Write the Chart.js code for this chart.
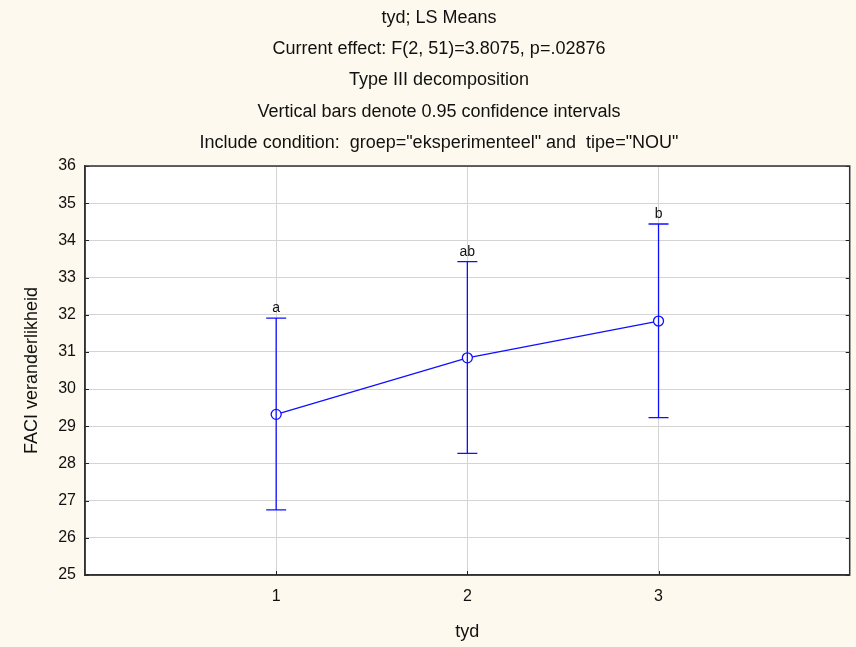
<!DOCTYPE html>
<html>
<head>
<meta charset="utf-8">
<script src="https://cdn.jsdelivr.net/npm/chart.js@4.4.1/dist/chart.umd.min.js"></script>
<style>
  html, body { margin: 0; padding: 0; background: #FEF9EE; }
  #wrap { width: 856px; height: 647px; }
</style>
</head>
<body>
<div id="wrap"><canvas id="c" width="856" height="647"></canvas></div>
<script>
const titleLines = [
  'tyd; LS Means',
  'Current effect: F(2, 51)=3.8075, p=.02876',
  'Type III decomposition',
  'Vertical bars denote 0.95 confidence intervals',
  'Include condition:  groep="eksperimenteel" and  tipe="NOU"'
];
const categories = [1, 2, 3];
const means = [29.32, 30.84, 31.83];
const lowerCI = [26.75, 28.27, 29.23];
const upperCI = [31.91, 33.43, 34.44];
const groupLetters = ['a', 'ab', 'b'];
const xTicks = [1, 2, 3];
const xTitle = 'tyd';
const yTitle = 'FACI veranderlikheid';

const BLUE = '#1010FF';
const FONT = '"Liberation Sans", Arial, sans-serif';

const extrasPlugin = {
  id: 'extras',
  beforeDraw(chart) {
    const ctx = chart.ctx;
    ctx.save();
    ctx.fillStyle = '#FEF9EE';
    ctx.fillRect(0, 0, chart.width, chart.height);
    const a = chart.chartArea;
    ctx.fillStyle = '#FFFFFF';
    ctx.fillRect(a.left, a.top, a.right - a.left, a.bottom - a.top);
    ctx.restore();
  },
  afterDatasetsDraw(chart) {
    const ctx = chart.ctx;
    const xs = chart.scales.x, ys = chart.scales.y;
    const a = chart.chartArea;
    ctx.save();
    ctx.strokeStyle = '#202020';
    ctx.lineWidth = 1;
    ctx.beginPath();
    xTicks.forEach(v => {
      const px = Math.round(xs.getPixelForValue(v)) + 0.5;
      ctx.moveTo(px, a.bottom); ctx.lineTo(px, a.bottom - 4);
    });
    for (let v = 25; v <= 36; v++) {
      const py = Math.round(ys.getPixelForValue(v)) + 0.5;
      ctx.moveTo(a.left, py); ctx.lineTo(a.left + 4, py);
      ctx.moveTo(a.right, py); ctx.lineTo(a.right - 4, py);
    }
    ctx.stroke();
    ctx.strokeStyle = BLUE;
    ctx.lineWidth = 1.3;
    categories.forEach((c, i) => {
      const px = xs.getPixelForValue(c);
      const yl = ys.getPixelForValue(lowerCI[i]);
      const yu = ys.getPixelForValue(upperCI[i]);
      ctx.beginPath();
      ctx.moveTo(px, yl); ctx.lineTo(px, yu);
      ctx.moveTo(px - 10, yu); ctx.lineTo(px + 10, yu);
      ctx.moveTo(px - 10, yl); ctx.lineTo(px + 10, yl);
      ctx.stroke();
      ctx.fillStyle = '#111';
      ctx.font = '14px ' + FONT;
      ctx.textAlign = 'center';
      ctx.textBaseline = 'alphabetic';
      ctx.fillText(groupLetters[i], px, yu - 6);
    });
    ctx.restore();
  },
  afterDraw(chart) {
    const ctx = chart.ctx;
    ctx.save();
    ctx.fillStyle = '#111';
    ctx.font = '18px ' + FONT;
    ctx.textAlign = 'center';
    ctx.textBaseline = 'middle';
    titleLines.forEach((t, i) => ctx.fillText(t, 439, 18 + i * 31.2));
    ctx.restore();
  }
};

new Chart(document.getElementById('c'), {
  type: 'line',
  data: {
    datasets: [{
      data: categories.map((c, i) => ({ x: c, y: means[i] })),
      borderColor: BLUE,
      borderWidth: 1.3,
      pointRadius: 5,
      pointBackgroundColor: '#FFFFFF',
      pointBorderColor: BLUE,
      pointBorderWidth: 1.3,
      tension: 0,
      fill: false
    }]
  },
  options: {
    responsive: false,
    animation: false,
    layout: { padding: { left: 0, top: 166, right: 6, bottom: 0 } },
    plugins: { legend: { display: false }, title: { display: false }, tooltip: { enabled: false } },
    scales: {
      x: {
        type: 'linear', min: 0, max: 4,
        afterBuildTicks(s) { s.ticks = xTicks.map(v => ({ value: v })); },
        afterFit(s) { s.height = 72; },
        grid: { color: '#D4D4D4', drawTicks: false, lineWidth: 1 },
        border: { color: '#303030', width: 1.5 },
        ticks: { color: '#111', font: { family: FONT, size: 16 }, padding: 12 },
        title: { display: true, text: xTitle, color: '#111', font: { family: FONT, size: 18 }, padding: { top: 0, bottom: 4 } }
      },
      y: {
        type: 'linear', min: 25, max: 36,
        afterFit(s) { s.width = 85; },
        grid: { color: '#D4D4D4', drawTicks: false, lineWidth: 1 },
        border: { color: '#303030', width: 1.5 },
        ticks: { stepSize: 1, color: '#111', font: { family: FONT, size: 16 }, padding: 9 },
        title: { display: true, text: yTitle, color: '#111', font: { family: FONT, size: 18 }, padding: { top: 21, bottom: 0 } }
      }
    }
  },
  plugins: [extrasPlugin, {
    id: 'frame',
    afterDraw(chart) {
      const a = chart.chartArea, ctx = chart.ctx;
      ctx.save();
      ctx.strokeStyle = '#303030';
      ctx.lineWidth = 1.5;
      ctx.strokeRect(a.left, a.top, a.right - a.left, a.bottom - a.top);
      ctx.restore();
    }
  }]
});
</script>
</body>
</html>
